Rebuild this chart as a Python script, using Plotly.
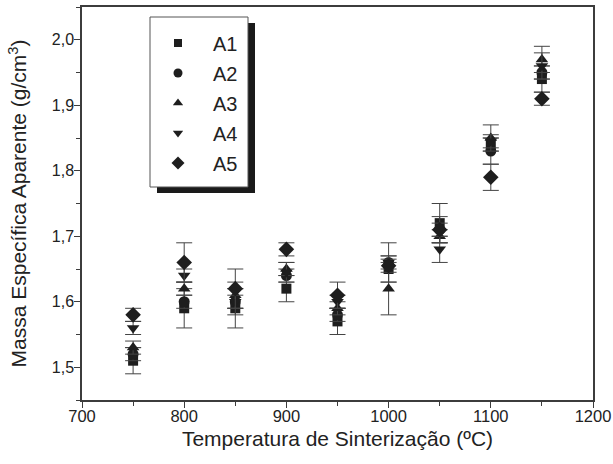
import plotly.graph_objects as go

temperatures = [750, 800, 850, 900, 950, 1000, 1050, 1100, 1150]

series_names = ["A1", "A2", "A3", "A4", "A5"]

A1 = [1.51, 1.59, 1.59, 1.62, 1.57, 1.65, 1.72, 1.84, 1.94]
A1_err = [0.02, 0.03, 0.03, 0.02, 0.02, 0.02, 0.03, 0.01, 0.02]
A2 = [1.52, 1.60, 1.60, 1.64, 1.58, 1.66, 1.71, 1.83, 1.95]
A2_err = [0.01, 0.01, 0.02, 0.01, 0.01, 0.03, 0.01, 0.02, 0.01]
A3 = [1.53, 1.62, 1.61, 1.65, 1.59, 1.62, 1.70, 1.85, 1.97]
A3_err = [0.01, 0.01, 0.02, 0.01, 0.01, 0.04, 0.01, 0.02, 0.02]
A4 = [1.56, 1.64, 1.60, 1.645, 1.60, 1.66, 1.68, 1.845, 1.96]
A4_err = [0.01, 0.01, 0.01, 0.015, 0.01, 0.01, 0.02, 0.01, 0.02]
A5 = [1.58, 1.66, 1.62, 1.68, 1.61, 1.655, 1.71, 1.79, 1.91]
A5_err = [0.01, 0.03, 0.03, 0.01, 0.02, 0.01, 0.02, 0.02, 0.01]

x_ticks = [700, 800, 900, 1000, 1100, 1200]
y_ticks = [1.5, 1.6, 1.7, 1.8, 1.9, 2.0]
y_tick_labels = ["1,5", "1,6", "1,7", "1,8", "1,9", "2,0"]

values = [A1, A2, A3, A4, A5]
errors = [A1_err, A2_err, A3_err, A4_err, A5_err]
symbols = ["square", "circle", "triangle-up", "triangle-down", "diamond"]
sizes = [10, 11, 11, 11, 12]

MARK = "#1e1e1e"
ERR = "#444444"
AXIS = "#3c3c3c"
FONT = "Liberation Sans, Arial, sans-serif"

fig = go.Figure()

for name, v, e, s, sz in zip(series_names, values, errors, symbols, sizes):
    fig.add_trace(go.Scatter(
        x=temperatures, y=v, mode="markers", name=name, showlegend=False,
        marker=dict(symbol=s, size=sz, color=MARK, line=dict(width=0)),
        error_y=dict(type="data", array=e, visible=True, color=ERR,
                     thickness=1, width=8),
    ))

for i, (name, s, sz) in enumerate(zip(series_names, symbols, sizes)):
    fig.add_trace(go.Scatter(
        x=[None], y=[None], mode="markers", name=name, legendgroup=name,
        marker=dict(symbol=s, size=sz - 2, color=MARK, line=dict(width=0)),
    ))

# legend box with drop shadow (pixel sized, anchored to plot corner)
fig.add_shape(type="rect", xref="paper", yref="paper",
              xsizemode="pixel", ysizemode="pixel", xanchor=0, yanchor=1,
              x0=75, x1=173, y0=-16, y1=-186,
              fillcolor="#1a1a1a", line=dict(width=0), layer="above")
fig.add_shape(type="rect", xref="paper", yref="paper",
              xsizemode="pixel", ysizemode="pixel", xanchor=0, yanchor=1,
              x0=68, x1=166, y0=-10, y1=-180,
              fillcolor="white", line=dict(color="#555555", width=1), layer="above")

fig.update_layout(
    width=613, height=464,
    margin=dict(l=82, r=20, t=7, b=64, autoexpand=False),
    paper_bgcolor="white", plot_bgcolor="white",
    font=dict(family=FONT, color="#222222"),
    showlegend=True,
    legend=dict(
        x=(143 - 82) / 511, xanchor="left",
        y=(400 - 23.5) / 393, yanchor="top",
        bgcolor="rgba(0,0,0,0)", borderwidth=0,
        font=dict(family=FONT, size=20, color="#222222"),
        itemwidth=60, tracegroupgap=1, traceorder="grouped",
    ),
    xaxis=dict(
        range=[700, 1200], tickvals=x_ticks, ticktext=[str(t) for t in x_ticks],
        showgrid=False, zeroline=False, automargin=False,
        showline=True, linecolor=AXIS, linewidth=1.5, mirror=True,
        ticks="outside", ticklen=6, tickwidth=1.2, tickcolor=AXIS,
        minor=dict(dtick=50, ticks="outside", ticklen=4, tickwidth=1.2, tickcolor=AXIS),
        tickfont=dict(size=16.5, color="#222222"), ticklabelstandoff=-6,
        title=dict(text="Temperatura de Sinterização (ºC)",
                   font=dict(size=21, color="#222222"), standoff=8),
    ),
    yaxis=dict(
        range=[1.45, 2.05], tickvals=y_ticks, ticktext=y_tick_labels,
        showgrid=False, zeroline=False, automargin=False,
        showline=True, linecolor=AXIS, linewidth=1.5, mirror=True,
        ticks="outside", ticklen=6, tickwidth=1.2, tickcolor=AXIS,
        minor=dict(dtick=0.05, ticks="outside", ticklen=4, tickwidth=1.2, tickcolor=AXIS),
        tickfont=dict(size=16, color="#222222"), ticklabelstandoff=-3,
        title=dict(text="Massa Específica Aparente (g/cm<sup>3</sup>)",
                   font=dict(size=21, color="#222222"), standoff=19),
    ),
)

fig.write_html("out.html", config={"displayModeBar": False},
               post_script="document.body.style.margin='0px';")
